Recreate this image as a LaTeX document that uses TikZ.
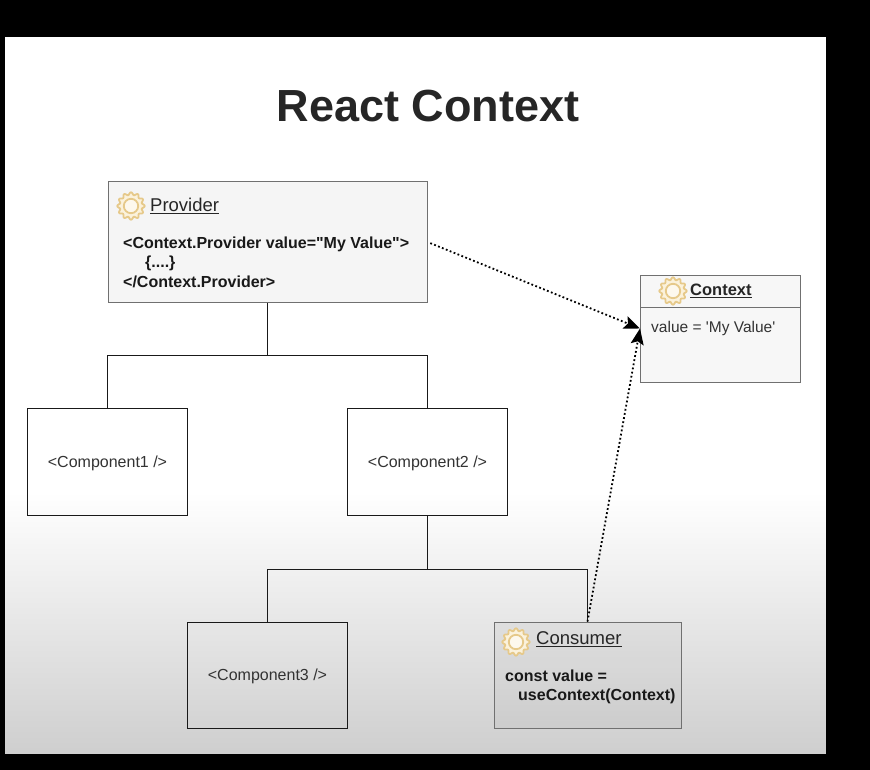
\documentclass[tikz,border=0pt]{standalone}
\usepackage{fontspec}
\setmainfont[Ligatures=TeXOff]{Liberation Sans}
\usetikzlibrary{calc,arrows.meta}

\definecolor{inkc}{HTML}{262626}
\definecolor{softc}{HTML}{333333}
\definecolor{edgec}{HTML}{707070}
\definecolor{gearc}{HTML}{E6C98A}
\definecolor{gearf}{HTML}{FBF2DC}

\tikzset{
  pics/cog/.style={code={
    \draw[gearc,fill=gearf,line width=1.8pt] plot[domain=0:360,samples=145,smooth]
      (\x:{12.4+1.3*cos(12*\x)}) -- cycle;
    \draw[gearc,fill=white!50!gearf,line width=1.8pt] (0,0) circle (7.2);
  }}
}

\begin{document}
\begin{tikzpicture}[x=1pt,y=-1pt,>={Stealth[length=16pt,width=13pt,inset=3pt]},
    comp/.style={draw=black!90,line width=1pt,minimum width=160pt,minimum height=107pt,
      text=softc,font=\fontsize{16}{19}\selectfont,inner sep=0pt,
      text height=15pt,text depth=3.4pt},
    uml/.style={draw=edgec,line width=1pt,inner sep=0pt},
    head/.style={anchor=west,inner sep=0pt,text=inkc,font=\fontsize{18.5}{22}\selectfont},
    code/.style={anchor=north west,inner sep=0pt,align=left,text=black!90,
      font=\fontsize{16}{19.6}\selectfont\bfseries},
    bus/.style={black!90,line width=1pt},
    dep/.style={->,black,line width=1.8pt,dash pattern=on 1.8pt off 2.4pt}]

  % backdrop
  \fill[black] (0,0) rectangle (870,770);
  \fill[white] (5,37) rectangle (826,753);
  \shade[top color=white,bottom color=black!19] (5,492) rectangle (825.8,753);
  \useasboundingbox (0,0) rectangle (870,770);

  \node[inner sep=0pt,text=inkc,font=\fontsize{45}{50}\selectfont\bfseries] (title) at (428,106) {React Context};

  % boxes
  \node[uml,fill=black!4,minimum width=319pt,minimum height=120pt] (provider) at (267.5,242) {};
  \node[uml,fill=black!3,minimum width=160pt,minimum height=107pt] (context) at (720.5,328.5) {};
  \node[comp] (comp1) at (107.5,461.5) {<Component1 />};
  \node[comp] (comp2) at (427.5,461.5) {<Component2 />};
  \node[comp,minimum height=106pt] (comp3) at (267.5,675) {<Component3 />};
  \node[uml,fill=black,fill opacity=.03,minimum width=187pt,minimum height=106pt] (consumer) at (587.5,675) {};

  % texts in the boxes
  \pic at (131,206) {cog};
  \node[head] (providerhead) at (150,206) {\underline{Provider}};
  \node[code] (providercode) at (123,236.5) {<Context.Provider value="My Value">\\
    \hspace{22pt}\{....\}\\</Context.Provider>};

  \pic at (673,291) {cog};
  \node[head,font=\fontsize{16.5}{20}\selectfont\bfseries] (contexthead) at (690,290.5) {\underline{Context}};
  \coordinate (contextrule) at (721,307);
  \draw[edgec,line width=.8pt] (context.west |- contextrule) -- (context.east |- contextrule);
  \node[anchor=west,inner sep=0pt,text=softc,font=\fontsize{15.5}{19}\selectfont] (contextvalue) at (651,328.5) {value = 'My Value'};

  \pic at (516,642) {cog};
  \node[head] (consumerhead) at (536,639) {\underline{Consumer}};
  \node[code] (consumercode) at (505,669.5) {const value =\\ \hspace{13pt}useContext(Context)};

  % tree
  \coordinate (busa) at (267.5,355);
  \coordinate (busb) at (427.5,569);
  \draw[bus] (provider.south) -- (busa);
  \draw[bus] (busa) -| (comp1.north);
  \draw[bus] (busa) -| (comp2.north);
  \draw[bus] (comp2.south) -- (busb);
  \draw[bus] (busb) -| (comp3.north);
  \draw[bus] (busb) -| (consumer.north);

  % dependencies
  \draw[dep,shorten <=3pt] (provider.east) -- (context.west);
  \draw[dep] (consumer.north) -- (context.west);

\end{tikzpicture}
\end{document}
